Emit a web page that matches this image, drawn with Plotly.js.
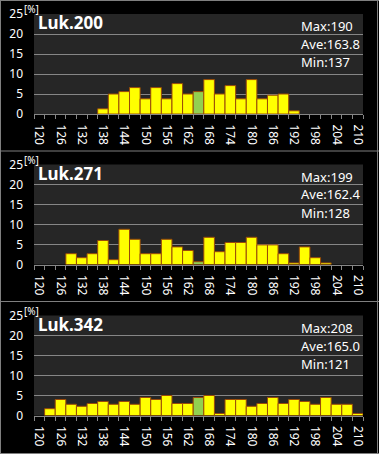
<!DOCTYPE html>
<html>
<head>
<meta charset="utf-8">
<script src="https://cdn.plot.ly/plotly-3.0.1.min.js"></script>
<style>
html,body{margin:0;padding:0;background:#000;}
#chart{width:379px;height:454px;}
</style>
</head>
<body>
<div id="chart"></div>
<script>
// Bins (upper edge labels), step 3
const bins = [120,123,126,129,132,135,138,141,144,147,150,153,156,159,162,165,168,171,174,177,180,183,186,189,192,195,198,201,204,207,210];

const names = ["Luk.200", "Luk.271", "Luk.342"];
const maxVals = [190, 199, 208];
const aveVals = ["163.8", "162.4", "165.0"];
const minVals = [137, 128, 121];
const aveBin = [165, 165, 165];

const pct200 = [0,0,0,0,0,0,1.3,5.0,5.6,6.6,3.8,6.6,3.8,7.6,5.0,5.6,8.6,5.0,7.1,3.8,8.6,3.8,4.7,5.0,0.8,0,0,0,0,0,0];
const pct271 = [0,0,0,2.7,1.7,2.7,6.0,1.2,8.8,6.3,2.7,2.7,6.3,4.4,3.5,0.7,6.8,3.2,5.5,5.5,6.8,4.9,4.9,2.7,0.4,4.4,1.7,0.4,0,0,0];
const pct342 = [0,1.7,4.0,2.8,2.3,3.0,3.5,2.8,3.5,2.8,4.5,4.0,5.0,3.0,3.0,4.5,5.0,0.5,4.0,4.0,2.3,3.0,4.5,3.0,4.0,3.5,2.8,4.5,2.8,2.8,0.5];

const series = [pct200, pct271, pct342];
const xTickVals = [120,126,132,138,144,150,156,162,168,174,180,186,192,198,204,210];
const yTickVals = [0,5,10,15,20,25];

const W = 379, H = 454;
const offs = [0, 150.5, 301.5];
const plotL = 34, plotR = 363, plotTop = 14, plotH = 100;
const px = x => x / W;
const py = y => 1 - y / H;

const FONT = "Noto Sans, Open Sans, DejaVu Sans, sans-serif";
const gridC = "#868686";

const data = [];
const layout = {
  width: W, height: H,
  margin: {l:0, r:0, t:0, b:0},
  paper_bgcolor: "#000000",
  plot_bgcolor: "#262626",
  showlegend: false,
  bargap: 0,
  annotations: [],
  shapes: []
};

series.forEach((vals, i) => {
  const n = i === 0 ? "" : String(i + 1);
  data.push({
    type: "bar",
    x: bins,
    y: vals.map(v => v === 0 ? null : v),
    width: 3,
    xaxis: "x" + n,
    yaxis: "y" + n,
    marker: {
      color: bins.map(b => b === aveBin[i] ? "#92D050" : "#FFFF00"),
      line: {color: "#9A4A08", width: 1}
    },
    hoverinfo: "x+y"
  });
  const top = plotTop + offs[i], bot = top + plotH;
  layout["xaxis" + n] = {
    domain: [px(plotL), px(plotR)],
    anchor: "y" + n,
    range: [118.5, 211.5],
    tickmode: "array",
    tickvals: xTickVals,
    ticktext: xTickVals.map(String),
    ticks: "",
    tickangle: 90,
    ticklabelstandoff: 7,
    tickfont: {family: FONT, size: 12, color: "#ffffff"},
    showline: true, linecolor: gridC, linewidth: 1,
    showgrid: false, zeroline: false,
    minor: {ticks: "outside", tick0: 118.5, dtick: 3, ticklen: 4, tickcolor: gridC, tickwidth: 1, showgrid: false},
    fixedrange: true
  };
  layout["yaxis" + n] = {
    domain: [py(bot), py(top)],
    anchor: "x" + n,
    range: [0, 25],
    tickmode: "array",
    tickvals: yTickVals,
    ticks: "",
    ticklabelstandoff: 10,
    tickfont: {family: FONT, size: 12, color: "#ffffff"},
    showgrid: true, gridcolor: gridC, gridwidth: 1,
    zeroline: false, showline: false,
    fixedrange: true
  };
  // title
  layout.annotations.push({
    xref: "paper", yref: "paper", x: px(36), y: py(top + 9), xanchor: "left", yanchor: "middle",
    text: "<b>" + names[i] + "</b>", showarrow: false,
    font: {family: FONT, size: 17, color: "#ffffff"}
  });
  // [%]
  layout.annotations.push({
    xref: "paper", yref: "paper", x: px(22), y: py(top - 4.5), xanchor: "left", yanchor: "middle",
    text: "[%]", showarrow: false,
    font: {family: FONT, size: 10, color: "#ffffff"}
  });
  const stats = ["Max:" + maxVals[i], "Ave:" + aveVals[i], "Min:" + minVals[i]];
  stats.forEach((s, k) => {
    layout.annotations.push({
      xref: "paper", yref: "paper", x: px(299), y: py(top + 12 + k * 18), xanchor: "left", yanchor: "middle",
      text: s, showarrow: false,
      font: {family: FONT, size: 13, color: "#ffffff"}
    });
  });
});

// panel frames
const frameC = "#7f7f7f";
[0.5, 151, 301.5, 453.5].forEach(yy => {
  layout.shapes.push({type: "line", xref: "paper", yref: "paper", x0: 0, x1: 1, y0: py(yy), y1: py(yy), line: {color: frameC, width: 1}});
});
[0.5, 377.5].forEach(xx => {
  layout.shapes.push({type: "line", xref: "paper", yref: "paper", x0: px(xx), x1: px(xx), y0: 0, y1: 1, line: {color: frameC, width: 1}});
});

Plotly.newPlot("chart", data, layout, {displayModeBar: false, staticPlot: true});
</script>
</body>
</html>
